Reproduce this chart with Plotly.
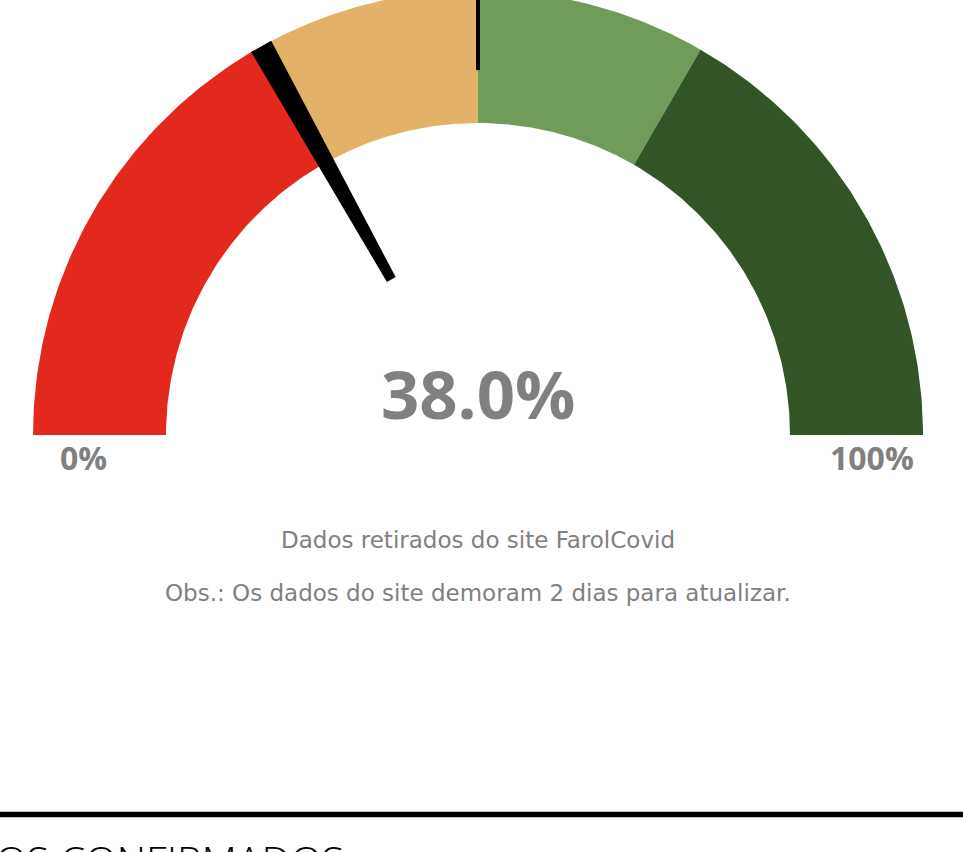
import numpy as np
import plotly.graph_objects as go

# ---- data ----
band_start = [0.0, 33.33, 50.0, 66.67]
band_end = [33.33, 50.0, 66.67, 100.0]
band_colors = ["#E3291D", "#E3B268", "#709B58", "#335427"]
gauge_value = 38.0          # displayed value (%)
needle_position = 33.8      # needle position on the arc (% of arc)
threshold_value = 50.0
scale_labels = ["0%", "100%"]
scale_values = [0.0, 100.0]
caption_lines = ["Dados retirados do site FarolCovid",
                 "Obs.: Os dados do site demoram 2 dias para atualizar."]
section_title = "CASOS CONFIRMADOS"

# ---- geometry (in units of outer radius) ----
W, H = 963, 852
CX, CY, RPX = 478, 435, 445
R_IN = 312 / 445
R_OUT = 1.0

def ang(v):
    return np.pi * (1 - v / 100.0)

fig = go.Figure()

for s, e, c in zip(band_start, band_end, band_colors):
    t = np.linspace(ang(s), ang(e), 120)
    xs = np.concatenate([R_OUT * np.cos(t), R_IN * np.cos(t[::-1])])
    ys = np.concatenate([R_OUT * np.sin(t), R_IN * np.sin(t[::-1])])
    fig.add_trace(go.Scatter(x=xs, y=ys, fill="toself", fillcolor=c, mode="lines",
                             line=dict(width=0, color=c), hoverinfo="skip", showlegend=False))

# threshold tick
tt = ang(threshold_value)
fig.add_trace(go.Scatter(x=[0.82 * np.cos(tt), 1.0 * np.cos(tt)],
                         y=[0.82 * np.sin(tt), 1.0 * np.sin(tt)],
                         mode="lines", line=dict(color="black", width=4),
                         hoverinfo="skip", showlegend=False))

# needle (tapered)
tn = ang(needle_position)
r0, r1 = 0.40, 1.0
w0, w1 = 5.0 / RPX, 11.5 / RPX
ux, uy = np.cos(tn), np.sin(tn)
px_, py_ = -uy, ux
nx = [r0 * ux + w0 * px_, r0 * ux - w0 * px_, r1 * ux - w1 * px_, r1 * ux + w1 * px_, r0 * ux + w0 * px_]
ny = [r0 * uy + w0 * py_, r0 * uy - w0 * py_, r1 * uy - w1 * py_, r1 * uy + w1 * py_, r0 * uy + w0 * py_]
fig.add_trace(go.Scatter(x=nx, y=ny, fill="toself", fillcolor="black", mode="lines",
                         line=dict(width=0, color="black"), hoverinfo="skip", showlegend=False))

def px2x(p):
    return (p - CX) / RPX

def px2y(p):
    return (CY - p) / RPX

annotations = []
annotations.append(dict(x=0, y=px2y(393), xref="x", yref="y", text=f"<b>{gauge_value:.1f}%</b>",
                        showarrow=False, font=dict(family="Open Sans", size=67, color="#808080"),
                        xanchor="center", yanchor="middle"))
label_x = [px2x(83), px2x(872)]
for lx, lab in zip(label_x, scale_labels):
    annotations.append(dict(x=lx, y=px2y(457), xref="x", yref="y", text=f"<b>{lab}</b>",
                            showarrow=False, font=dict(family="Open Sans", size=32, color="#808080"),
                            xanchor="center", yanchor="middle"))
for yy, line in zip([540, 593], caption_lines):
    annotations.append(dict(x=0, y=px2y(yy), xref="x", yref="y", text=line, showarrow=False,
                            font=dict(family="DejaVu Sans", size=23, color="#808080"),
                            xanchor="center", yanchor="middle"))
annotations.append(dict(x=px2x(346), y=px2y(830), xref="x", yref="y", text=section_title,
                        showarrow=False, font=dict(family="Open Sans", size=41, color="black", weight=300),
                        xanchor="right", yanchor="top"))

fig.update_layout(
    width=W, height=H,
    margin=dict(l=0, r=0, t=0, b=0),
    paper_bgcolor="white", plot_bgcolor="white",
    xaxis=dict(range=[px2x(0), px2x(W)], visible=False, fixedrange=True),
    yaxis=dict(range=[px2y(H), px2y(0)], visible=False, fixedrange=True),
    annotations=annotations,
    shapes=[dict(type="line", xref="paper", yref="y", x0=0, x1=1, y0=px2y(814.5), y1=px2y(814.5),
                 line=dict(color="black", width=5.5))],
    showlegend=False,
)

fig.write_html("out.html", config={"displayModeBar": False},
               post_script="document.body.style.margin='0';document.body.style.overflow='hidden';")
